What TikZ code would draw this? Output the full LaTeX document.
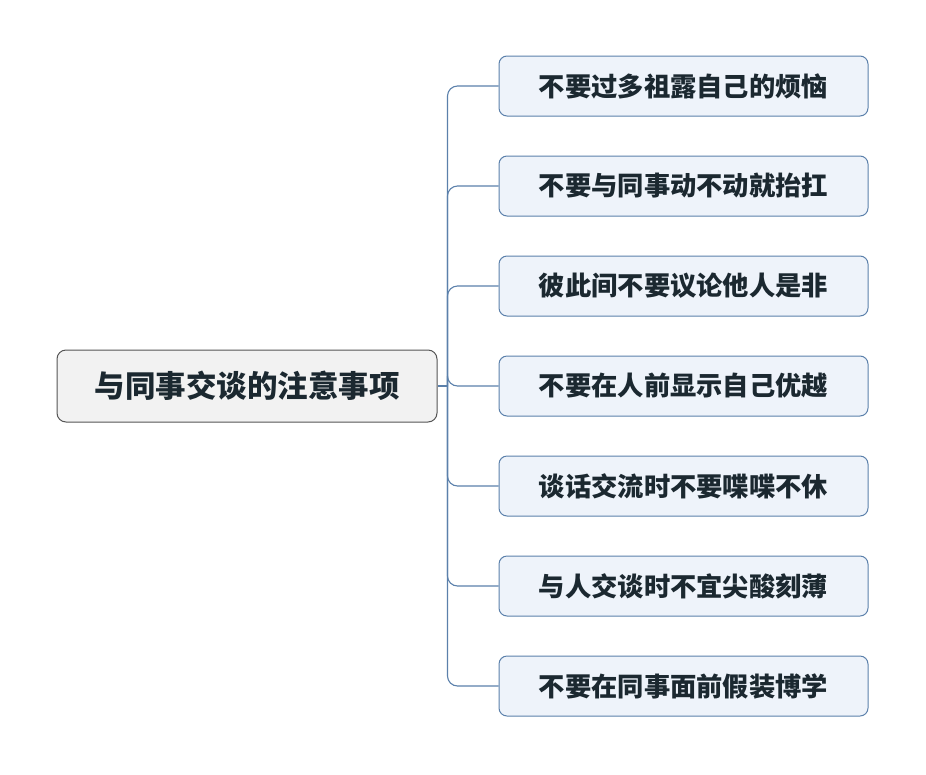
\documentclass[tikz,border=0pt]{standalone}
\usepackage{fontspec}
\newfontfamily\cjk{Noto Sans CJK SC}
\usetikzlibrary{calc,positioning}
\definecolor{ink}{HTML}{1B2830}
\definecolor{edge}{HTML}{5B80AB}
\definecolor{leaffill}{HTML}{EEF3FA}
\definecolor{rootfill}{HTML}{F2F2F2}
\definecolor{rootedge}{HTML}{555555}
\tikzset{
  leaf/.style={rounded corners=8pt,fill=leaffill,draw=edge,line width=1pt,minimum width=369pt,minimum height=60pt,inner sep=0pt,text=ink,font=\cjk\bfseries\fontsize{26.3}{30}\selectfont},
  topic/.style={rounded corners=9pt,fill=rootfill,draw=rootedge,line width=1pt,minimum width=380pt,minimum height=72pt,inner sep=0pt,text=ink,font=\cjk\bfseries\fontsize{30.5}{34}\selectfont},
  link/.style={edge,line width=1.1pt},
}
\begin{document}
\begin{tikzpicture}[x=1pt,y=-1pt]
\useasboundingbox (0,0) rectangle (926,774);
\node[topic] (root) at (247,386) {与同事交谈的注意事项};
\coordinate (trunk) at (447.5,386);
\foreach \txt [count=\i] in {不要过多祖露自己的烦恼,不要与同事动不动就抬扛,彼此间不要议论他人是非,不要在人前显示自己优越,谈话交流时不要喋喋不休,与人交谈时不宜尖酸刻薄,不要在同事面前假装博学}
  \node[leaf] (c\i) at (683.5,{-14+100*\i}) {\txt};
\draw[link] (root.east) -- (trunk);
\foreach \i in {1,...,7}
  \draw[link,rounded corners=10pt] (trunk) |- (c\i.west);
\end{tikzpicture}
\end{document}
